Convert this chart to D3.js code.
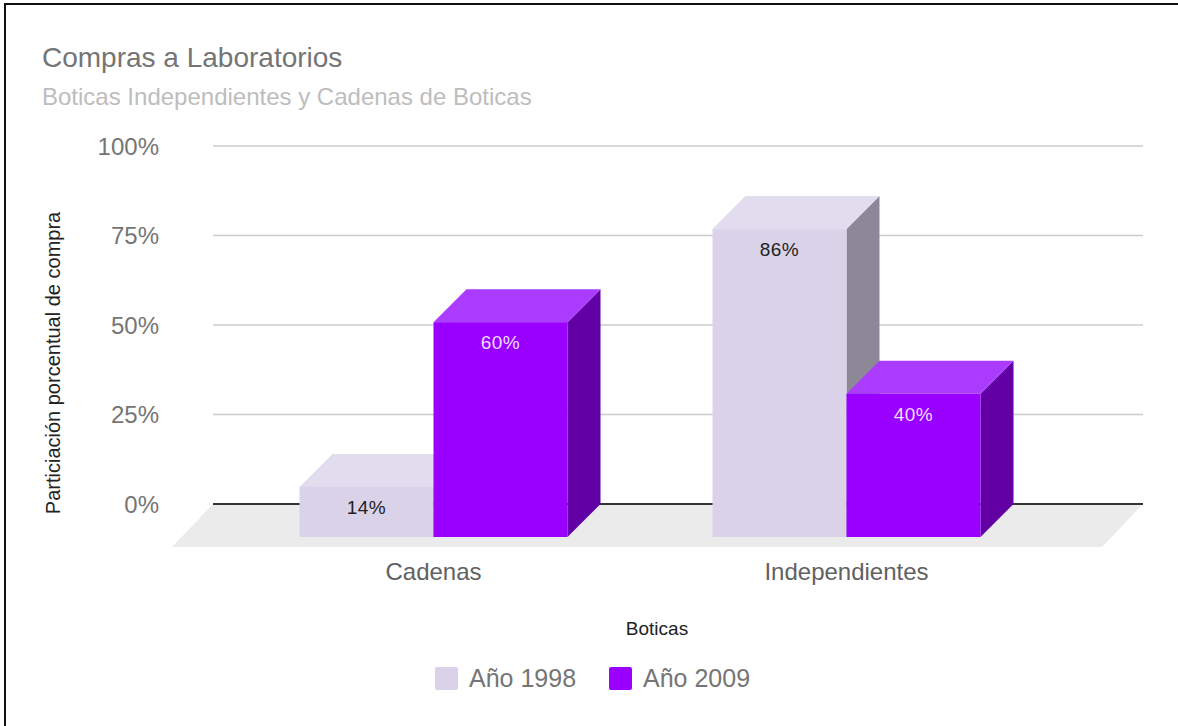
<!DOCTYPE html>
<html>
<head>
<meta charset="utf-8">
<script src="https://cdn.jsdelivr.net/npm/d3@7"></script>
<style>
  body { margin: 0; background: #fff; }
  svg text { font-family: "Liberation Sans", Arial, sans-serif; }
</style>
</head>
<body>
<div id="container"></div>
<script>
/**
 * CONSTANTS AND DATA
 * */
const categories = ["Cadenas", "Independientes"];
const seriesNames = ["Año 1998", "Año 2009"];
const values1998 = [14, 86];
const values2009 = [60, 40];
const yTicks = [0, 25, 50, 75, 100];
const tickLabels = ["0%", "25%", "50%", "75%", "100%"];

const width = 1178, height = 726;
const depth = 33;                       // 3D offset of the bars
const floorDx = 41, floorDy = 43;       // floor depth
const wallLeft = 213, wallRight = 1143; // back wall extent

// colours: front / top / side
const palette = {
  "Año 1998": { front: "#d9d2e9", top: "#e1dcee", side: "#8c8898", label: "#222" },
  "Año 2009": { front: "#9900ff", top: "#ab3bff", side: "#6200a6", label: "#f0dcff" }
};

const rows = categories.map((c, i) => ({
  category: c,
  values: [
    { series: seriesNames[0], value: values1998[i] },
    { series: seriesNames[1], value: values2009[i] }
  ]
}));

const svg = d3.select("#container")
  .append("svg")
  .attr("width", width)
  .attr("height", height);

// frame (top + left edge)
svg.append("line").attr("x1", 4).attr("x2", width).attr("y1", 4).attr("y2", 4)
  .attr("stroke", "#111").attr("stroke-width", 2);
svg.append("line").attr("x1", 5).attr("x2", 5).attr("y1", 3).attr("y2", height)
  .attr("stroke", "#111").attr("stroke-width", 2);

// titles
svg.append("text")
  .attr("x", 42).attr("y", 67)
  .text("Compras a Laboratorios")
  .style("font-size", "28px")
  .attr("fill", "#757575");

svg.append("text")
  .attr("x", 42).attr("y", 105)
  .text("Boticas Independientes y Cadenas de Boticas")
  .style("font-size", "24px")
  .attr("fill", "#bdbdbd");

/*** SCALES */
const y = d3.scaleLinear().domain([0, 100]).range([504, 146]);

const x0 = d3.scaleBand()
  .domain(categories)
  .range([227, 1053]);

const groupW = 268;
const x1 = d3.scaleBand()
  .domain(seriesNames)
  .range([0, groupW]);

const groupX = c => x0(c) + (x0.bandwidth() - groupW) / 2;

// floor
svg.append("polygon")
  .attr("points", [
    [wallLeft, y(0)], [wallRight, y(0)],
    [wallRight - floorDx, y(0) + floorDy], [wallLeft - floorDx, y(0) + floorDy]
  ].map(p => p.join(",")).join(" "))
  .attr("fill", "#ebebeb");

// gridlines
svg.selectAll(".grid")
  .data(yTicks.filter(d => d !== 0))
  .join("line")
  .attr("class", "grid")
  .attr("x1", wallLeft).attr("x2", wallRight)
  .attr("y1", d => y(d)).attr("y2", d => y(d))
  .attr("stroke", "#cccccc")
  .attr("stroke-width", 1.5);

// baseline
svg.append("line")
  .attr("x1", wallLeft).attr("x2", wallRight)
  .attr("y1", y(0)).attr("y2", y(0))
  .attr("stroke", "#333")
  .attr("stroke-width", 2);

// y tick labels
svg.selectAll(".ytick")
  .data(yTicks)
  .join("text")
  .attr("class", "ytick")
  .attr("x", 159)
  .attr("y", d => y(d) + 8.5)
  .attr("text-anchor", "end")
  .style("font-size", "24px")
  .attr("fill", "#757575")
  .text((d, i) => tickLabels[i]);

// y axis title
svg.append("text")
  .attr("transform", "translate(60,363) rotate(-90)")
  .attr("text-anchor", "middle")
  .style("font-size", "20px")
  .attr("fill", "#222")
  .text("Particiación porcentual de compra");

/*** BARS */
const groups = svg.selectAll(".group")
  .data(rows)
  .join("g")
  .attr("class", "group");

const bars = groups.selectAll(".bar")
  .data(d => d.values.map(v => ({ ...v, category: d.category })))
  .join("g")
  .attr("class", "bar");

const fx = d => groupX(d.category) + x1(d.series);
const bw = x1.bandwidth();

bars.append("polygon") // side
  .attr("points", d => {
    const l = fx(d) + bw, t = y(d.value), b = y(0);
    return [[l, t + depth], [l + depth, t], [l + depth, b], [l, b + depth]].map(p => p.join(",")).join(" ");
  })
  .attr("fill", d => palette[d.series].side);

bars.append("polygon") // top
  .attr("points", d => {
    const l = fx(d), t = y(d.value);
    return [[l, t + depth], [l + bw, t + depth], [l + bw + depth, t], [l + depth, t]].map(p => p.join(",")).join(" ");
  })
  .attr("fill", d => palette[d.series].top);

bars.append("rect") // front
  .attr("x", d => fx(d))
  .attr("y", d => y(d.value) + depth)
  .attr("width", bw)
  .attr("height", d => y(0) - y(d.value))
  .attr("fill", d => palette[d.series].front);

bars.append("text")
  .attr("x", d => fx(d) + bw / 2)
  .attr("y", d => y(d.value) + depth + 27)
  .attr("text-anchor", "middle")
  .style("font-size", "19px")
  .style("letter-spacing", "0.5px")
  .attr("fill", d => palette[d.series].label)
  .text(d => d.value + "%");

// category labels
svg.selectAll(".xlabel")
  .data(categories)
  .join("text")
  .attr("class", "xlabel")
  .attr("x", d => x0(d) + x0.bandwidth() / 2)
  .attr("y", 580)
  .attr("text-anchor", "middle")
  .style("font-size", "24px")
  .attr("fill", "#616161")
  .text(d => d);

// x axis title
svg.append("text")
  .attr("x", 657).attr("y", 635)
  .attr("text-anchor", "middle")
  .style("font-size", "19px")
  .attr("fill", "#222")
  .text("Boticas");

/*** LEGEND */
const legendX = [435, 609];
const legend = svg.selectAll(".legend")
  .data(seriesNames)
  .join("g")
  .attr("class", "legend")
  .attr("transform", (d, i) => `translate(${legendX[i]},667)`);

legend.append("rect")
  .attr("width", 23).attr("height", 23)
  .attr("rx", 2)
  .attr("fill", d => palette[d].front);

legend.append("text")
  .attr("x", 34).attr("y", 20)
  .style("font-size", "25px")
  .attr("fill", "#757575")
  .text(d => d);
</script>
</body>
</html>
